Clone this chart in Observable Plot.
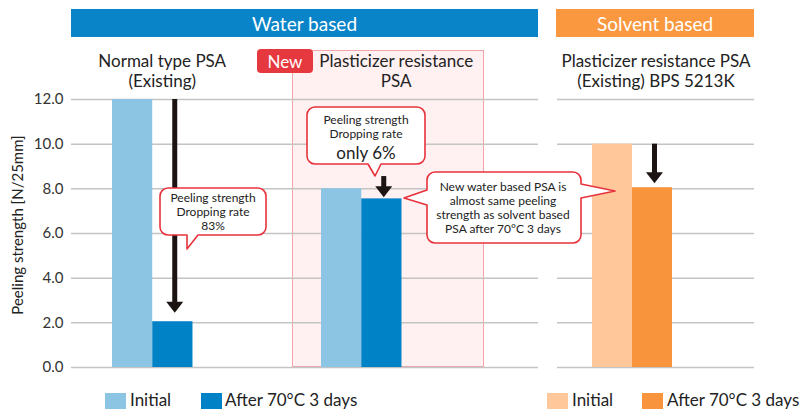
<!DOCTYPE html>
<html><head><meta charset="utf-8">
<script src="https://cdn.jsdelivr.net/npm/d3@7"></script>
<script src="https://cdn.jsdelivr.net/npm/@observablehq/plot@0.6"></script>
<style>
body{margin:0;background:#fff;}
#wrap{position:relative;width:800px;height:420px;overflow:hidden;font-family:Lato,sans-serif;color:#333;}
.hdr{position:absolute;top:9px;height:28px;color:#fff;font-size:19px;display:flex;align-items:center;justify-content:center;}
.cat{position:absolute;top:51px;font-size:17px;line-height:20px;text-align:center;white-space:pre;transform:translateX(-50%);color:#222;}
.plotbox{position:absolute;top:0;}
.sw{position:absolute;width:21px;height:16px;top:393px;}
.lg{position:absolute;top:389px;font-size:17px;line-height:22px;color:#222;white-space:pre;}
</style></head><body><div id="wrap"></div><script>
// ---- data ----
const groupTitles = ["Water based", "Solvent based"];
const waterProducts = ["Normal type PSA\n(Existing)", "Plasticizer resistance\nPSA"];
const solventProducts = ["Plasticizer resistance PSA\n(Existing) BPS 5213K"];
const seriesNames = ["Initial", "After 70°C 3 days"];
const waterInitial = [12.0, 8.0];
const waterAfter = [2.05, 7.55];
const solventInitial = [10.0];
const solventAfter = [8.05];
const yTicks = [0, 2, 4, 6, 8, 10, 12];
const waterArrowFrom = [12.0, 8.55];
const waterArrowTo = [2.45, 7.62];
const solventArrowFrom = [10.0];
const solventArrowTo = [8.25];
const yLabel = "Peeling strength [N/25mm]";
const newBadge = "New";
const callout1 = ["Peeling strength", "Dropping rate", "83%"];
const callout2 = ["Peeling strength", "Dropping rate", "only 6%"];
const callout3 = ["New water based PSA is", "almost same peeling", "strength as solvent based", "PSA after 70°C 3 days"];

// ---- styles ----
const C = {lightBlue:"#8cc4e4", blue:"#0082c6", lightOrange:"#ffc79a", orange:"#f8953c",
  hdrBlue:"#0a84c8", hdrOrange:"#f9983f", grid:"#c4c4c4", arrow:"#1c1412", red:"#e8323b"};

const wrap = document.getElementById("wrap");
const el = (tag, cls, style, text) => { const e = document.createElement(tag); if (cls) e.className = cls; Object.assign(e.style, style || {}); if (text != null) e.textContent = text; wrap.appendChild(e); return e; };

const head = {draw(ctx){ ctx.moveTo(-8.5,-11); ctx.lineTo(8.5,-11); ctx.lineTo(0,0); ctx.closePath(); }};

const wData = waterProducts.map((p,i)=>({product:p, initial:waterInitial[i], after:waterAfter[i]}));
const wArrows = waterProducts.map((p,i)=>({product:p, from:waterArrowFrom[i], to:waterArrowTo[i]}));
const sData = solventProducts.map((p,i)=>({product:p, initial:solventInitial[i], after:solventAfter[i]}));
const sArrows = solventProducts.map((p,i)=>({product:p, from:solventArrowFrom[i], to:solventArrowTo[i]}));

const common = {height:380, marginTop:99, marginBottom:13,
  style:{fontFamily:"Lato", fontSize:"15px", color:"#333", background:"transparent", overflow:"visible"}};

const water = Plot.plot({...common, width:540, marginLeft:71, marginRight:2,
  x:{domain:waterProducts, axis:null, paddingInner:0.615, paddingOuter:0.4247, align:0.231, round:false},
  y:{domain:[0,12], ticks:yTicks, tickFormat:d=>d.toFixed(1), tickSize:0, tickPadding:8, label:null},
  marks:[
    Plot.ruleY(yTicks,{stroke:C.grid, strokeWidth:1.5}),
    Plot.barY(wData,{x:"product", y:"initial", fill:C.lightBlue, insetRight:40.25}),
    Plot.barY(wData,{x:"product", y:"after", fill:C.blue, insetLeft:40.25}),
    Plot.ruleX(wArrows,{x:"product", y1:"from", y2:"to", dx:22, stroke:C.arrow, strokeWidth:5, insetBottom:8}),
    Plot.dot(wArrows,{x:"product", y:"to", dx:22, symbol:head, fill:C.arrow, stroke:"none"})
  ]});

const solvent = Plot.plot({...common, width:260, marginLeft:17, marginRight:46,
  x:{domain:solventProducts, axis:null, paddingInner:0, paddingOuter:0.731, align:0.299, round:false},
  y:{domain:[0,12], axis:null},
  marks:[
    Plot.ruleY(yTicks,{stroke:C.grid, strokeWidth:1.5}),
    Plot.barY(sData,{x:"product", y:"initial", fill:C.lightOrange, insetRight:40}),
    Plot.barY(sData,{x:"product", y:"after", fill:C.orange, insetLeft:40}),
    Plot.ruleX(sArrows,{x:"product", y1:"from", y2:"to", dx:22, stroke:C.arrow, strokeWidth:5, insetBottom:8}),
    Plot.dot(sArrows,{x:"product", y:"to", dx:22, symbol:head, fill:C.arrow, stroke:"none"})
  ]});

const wx = water.scale("x"), sx = solvent.scale("x");
const SOLV_LEFT = 540;

// pink highlight box behind the new PSA
const nb = wx.apply(waterProducts[1]);
el("div", null, {position:"absolute", left:(nb-29)+"px", top:"50px", width:(wx.bandwidth+112)+"px", height:"317px",
  background:"#fff0f1", border:"1.5px solid #f5a3ab", boxSizing:"border-box"});

const wb = el("div","plotbox",{left:"0px"}); wb.appendChild(water);
const sb = el("div","plotbox",{left:SOLV_LEFT+"px"}); sb.appendChild(solvent);

// group header bars
el("div","hdr",{left:"71px", width:"467px", background:C.hdrBlue}, groupTitles[0]);
el("div","hdr",{left:"556px", width:"198px", background:C.hdrOrange}, groupTitles[1]);

// category labels
el("div","cat",{left:(wx.apply(waterProducts[0]) + wx.bandwidth/2 + 10)+"px"}, waterProducts[0]);
el("div","cat",{left:(wx.apply(waterProducts[1]) + wx.bandwidth/2 + 35)+"px"}, waterProducts[1]);
el("div","cat",{left:(SOLV_LEFT + sx.apply(solventProducts[0]) + sx.bandwidth/2 + 24)+"px"}, solventProducts[0]);

// y axis title
el("div",null,{position:"absolute", left:"17px", top:"225px", transform:"translate(-50%,-50%) rotate(-90deg)",
  fontSize:"15px", whiteSpace:"pre", color:"#222"}, yLabel);

// New badge
el("div",null,{position:"absolute", left:"257px", top:"49px", width:"56px", height:"24px", background:"#e6383f",
  borderRadius:"4px", color:"#fff", fontSize:"17px", display:"flex", alignItems:"center", justifyContent:"center"}, newBadge);

// legend
const legend = [[105,130,C.lightBlue,seriesNames[0]],[201,225,C.blue,seriesNames[1]],
                [547,572,C.lightOrange,seriesNames[0]],[642,667,C.orange,seriesNames[1]]];
legend.forEach(([sxp,tx,col,name])=>{ el("div","sw",{left:sxp+"px", background:col}); el("div","lg",{left:tx+"px"}, name); });

// callouts overlay
function bubble(x0,y0,x1,y1,r,tails){
  const t = side => tails.find(d=>d.side===side);
  let p = `M${x0+r},${y0}H${x1-r}A${r},${r} 0 0 1 ${x1},${y0+r}`;
  const R = t("right"); if (R) p += `V${R.a}L${R.tx},${R.ty}L${x1},${R.b}`;
  p += `V${y1-r}A${r},${r} 0 0 1 ${x1-r},${y1}`;
  const B = t("bottom"); if (B) p += `H${B.b}L${B.tx},${B.ty}L${B.a},${y1}`;
  p += `H${x0+r}A${r},${r} 0 0 1 ${x0},${y1-r}`;
  const L = t("left"); if (L) p += `V${L.b}L${L.tx},${L.ty}L${x0},${L.a}`;
  p += `V${y0+r}A${r},${r} 0 0 1 ${x0+r},${y0}Z`;
  return p;
}
const ov = d3.select(wrap).append("svg").attr("width",800).attr("height",420)
  .style("position","absolute").style("left",0).style("top",0).style("font-family","Lato");
const bubbles = [
  {box:[160,188,266,235], tails:[{side:"bottom",a:187,b:198,tx:187,ty:249}], cx:213, lines:callout1, ys:[198,212,226], sizes:[12,12,12]},
  {box:[307,107,425,164], tails:[{side:"bottom",a:368,b:381,tx:375,ty:176}], cx:366, lines:callout2, ys:[120,134,153], sizes:[12,12,17]},
  {box:[427,172,581,243], tails:[{side:"left",a:190,b:205,tx:404,ty:198},{side:"right",a:184,b:198,tx:615,ty:191}], cx:503, lines:callout3, ys:[187,201,215,229], sizes:[12,12,12,12]}
];
bubbles.forEach(b=>{
  ov.append("path").attr("d", bubble(...b.box, 8, b.tails)).attr("fill","#fff").attr("stroke",C.red).attr("stroke-width",1.6).attr("stroke-linejoin","round");
  b.lines.forEach((s,i)=>ov.append("text").attr("x",b.cx).attr("y",b.ys[i]).attr("dy","0.35em").attr("text-anchor","middle")
    .attr("font-size",b.sizes[i]).attr("fill","#222").text(s));
});
</script></body></html>
